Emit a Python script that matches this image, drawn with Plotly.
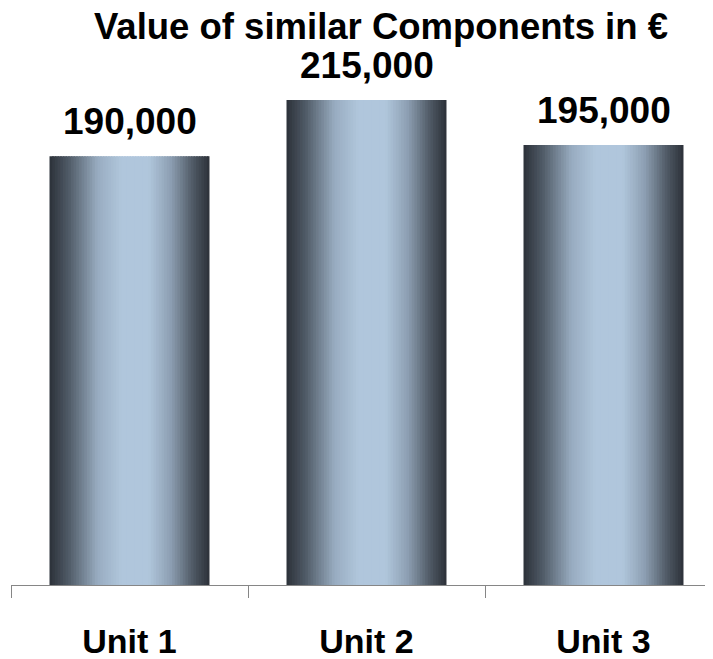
import plotly.graph_objects as go

# data
units = ["Unit 1", "Unit 2", "Unit 3"]
values = [190000, 215000, 195000]
chart_title = "Value of similar Components in €"

# horizontal "cylinder" shading of each bar: (position across bar, rgb)
shade_stops = [
    (0.00, (44, 49, 57)),
    (0.12, (80, 91, 103)),
    (0.30, (152, 172, 192)),
    (0.45, (176, 198, 220)),
    (0.62, (176, 198, 220)),
    (0.76, (140, 158, 177)),
    (0.90, (78, 88, 99)),
    (1.00, (44, 49, 57)),
]


def shade(t):
    for (t0, c0), (t1, c1) in zip(shade_stops[:-1], shade_stops[1:]):
        if t0 <= t <= t1:
            f = (t - t0) / (t1 - t0) if t1 > t0 else 0
            r, g, b = (round(a + (bb - a) * f) for a, bb in zip(c0, c1))
            return f"rgb({r},{g},{b})"
    return "rgb(44,49,57)"


FONT = "Liberation Sans, Arial, sans-serif"
bar_w = 0.675
n_slices = 60
step = bar_w / n_slices

fig = go.Figure()
# each bar is drawn as thin vertical slices so it can carry a gradient
for i in range(n_slices):
    fig.add_trace(go.Bar(
        x=units, y=values,
        width=step * 1.6 if i < n_slices - 1 else step,
        offset=-bar_w / 2 + i * step,
        marker=dict(color=shade((i + 0.5) / n_slices), line=dict(width=0)),
        showlegend=False, hoverinfo="skip",
    ))

for u, v in zip(units, values):
    fig.add_annotation(
        x=u, y=v, text=f"<b>{v:,}</b>", showarrow=False,
        yanchor="bottom", yshift=12,
        font=dict(family=FONT, size=37, color="black"),
    )

fig.update_layout(
    width=713, height=659,
    margin=dict(l=3, r=8, t=13, b=82),
    paper_bgcolor="white", plot_bgcolor="white",
    barmode="overlay",
    title=dict(text=f"<b>{chart_title}</b>", x=373 / 713, xanchor="center",
               y=1 - 5 / 659, yanchor="top", yref="container",
               font=dict(family=FONT, size=36.5, color="black")),
    xaxis=dict(
        type="category", range=[-0.5, -0.5 + 702 / 237],
        showline=True, linecolor="#868686", linewidth=1,
        ticks="outside", tickson="boundaries", ticklen=12,
        tickcolor="#868686", tickwidth=1,
        tickfont=dict(family=FONT, size=34, color="black"),
        ticklabelstandoff=26,
        showgrid=False, zeroline=False,
    ),
    yaxis=dict(range=[0, 250000], visible=False, showgrid=False),
)
fig.update_xaxes(ticktext=[f"<b>{u}</b>" for u in units], tickvals=units)

fig.write_html("out.html")
